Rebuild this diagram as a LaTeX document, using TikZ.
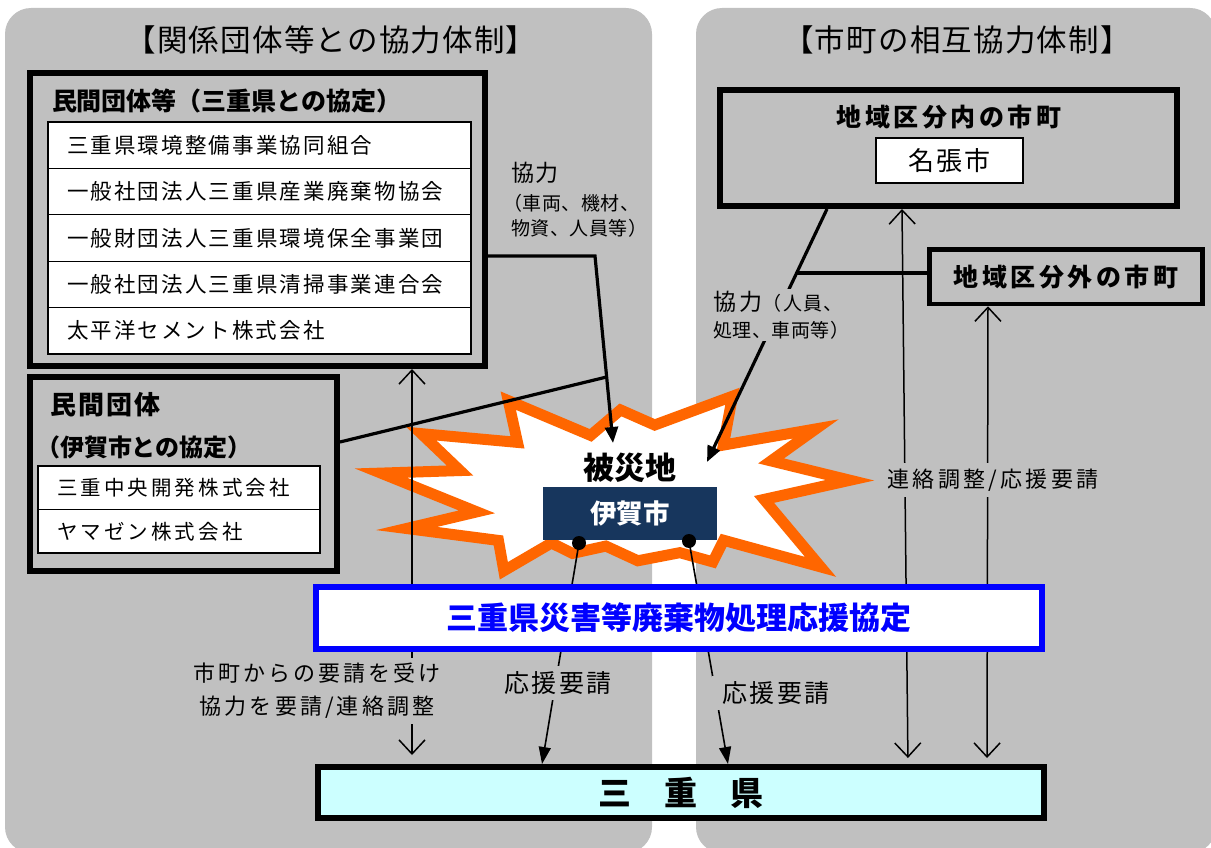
\documentclass[tikz,border=0pt]{standalone}
\usepackage{fontspec}
\setmainfont{Noto Sans CJK JP}
\usetikzlibrary{arrows.meta,calc}
\definecolor{panel}{HTML}{C0C0C0}
\definecolor{burstorange}{HTML}{FF6600}
\definecolor{navy}{HTML}{17365D}
\definecolor{pblue}{HTML}{0000FF}
\definecolor{pcyan}{HTML}{CCFFFF}
\newcommand{\fs}[2]{\fontsize{#1}{#2}\selectfont}
\newcommand{\ls}[1]{\addfontfeature{LetterSpace=#1}}
\begin{document}
\begin{tikzpicture}[x=1pt,y=-1pt,
  every node/.style={inner sep=0pt, outer sep=0pt},
  heavybox/.style={draw=black, line width=6pt, outer sep=3pt},
  listrow/.style={draw=black, line width=1.3pt, fill=white, align=left, inner xsep=19pt, inner ysep=0pt},
  boxtitle/.style={font=\bfseries\fs{25}{30}},
  itemA/.style={font=\fs{21.5}{26}\ls{10}},
  itemB/.style={font=\fs{20.5}{26}\ls{15}},
  paneltitle/.style={font=\fs{30.5}{34}\ls{4}},
  small/.style={font=\fs{19}{20}\ls{3}},
  thickc/.style={line width=3.2pt},
  thinc/.style={line width=1.6pt, -{Triangle[length=17pt,width=12pt]}},
  dbl/.style={line width=1.5pt, {Straight Barb[length=14pt,width=26pt]}-{Straight Barb[length=14pt,width=26pt]}},
  burst/.style={draw=burstorange, line width=11pt, fill=white, line join=miter},
  dot/.style={circle, fill=black, minimum size=14pt},
  cover/.style={fill=panel}
]
\useasboundingbox (0,0) rectangle (1211,848);
\fill[white] (0,0) rectangle (1211,848);
% panels
\fill[panel, rounded corners=26pt] (5,8) rectangle (652,853);
\fill[panel, rounded corners=26pt] (696,8) rectangle (1216,853);

% burst
\coordinate (bc) at (615,485);
\foreach \n/\px/\py/\s in {b1/359/472/22, b2/454/470/6, b3/400/428/22, b4/512/440/6,
  b5/491/387/22, b6/588/430/6, b7/622/390/20, b8/658/420/6, b9/750/383/22,
  b10/729/443/6, b11/837/423/22, b12/777/460/6, b13/862/480/12, b14/770/500/6,
  b15/841/575/22, b16/729/543/6, b17/727/573/18, b18/684/557/6, b19/643/578/18,
  b20/605/552/6, b21/564/567/16, b22/547/547/6, b23/488/583/20, b24/493/543/6,
  b25/385/533/22, b26/471/513/6}
  \coordinate (\n) at ($(\px,\py)!\s pt!(bc)$);
\draw[burst] (b1) -- (b2) -- (b3) -- (b4) -- (b5) -- (b6) -- (b7) -- (b8) -- (b9)
  -- (b10) -- (b11) -- (b12) -- (b13) -- (b14) -- (b15) -- (b16) -- (b17) -- (b18)
  -- (b19) -- (b20) -- (b21) -- (b22) -- (b23) -- (b24) -- (b25) -- (b26) -- cycle;

% titles
\node[paneltitle] (titleL) at (331,40) {【関係団体等との協力体制】};
\node[paneltitle] (titleR) at (957,40) {【市町の相互協力体制】};

% box A
\node[heavybox, minimum width=455pt, minimum height=293pt] (boxA) at (257.5,219.5) {};
\node[boxtitle, anchor=west] (titA) at (52,101) {民間団体等（三重県との協定）};
\node[listrow, itemA, text width=385pt, minimum height=46.4pt] (a1) at (259.5,145.2) {三重県環境整備事業協同組合};
\node[listrow, itemA, text width=385pt, minimum height=46.4pt] (a2) at (259.5,191.6) {一般社団法人三重県産業廃棄物協会};
\node[listrow, itemA, text width=385pt, minimum height=46.4pt] (a3) at (259.5,238.0) {一般財団法人三重県環境保全事業団};
\node[listrow, itemA, text width=385pt, minimum height=46.4pt] (a4) at (259.5,284.4) {一般社団法人三重県清掃事業連合会};
\node[listrow, itemA, text width=385pt, minimum height=46.4pt] (a5) at (259.5,330.8) {太平洋セメント株式会社};

% box B
\node[heavybox, minimum width=307pt, minimum height=194pt] (boxB) at (183.5,474) {};
\node[anchor=west, font=\bfseries\fs{26}{30}\ls{8}] (titB1) at (50,405) {民間団体};
\node[anchor=west, font=\bfseries\fs{24}{28}] (titB2) at (36,447) {（伊賀市との協定）};
\node[listrow, itemB, text width=244pt, minimum height=43.5pt] (bb1) at (179,487.75) {三重中央開発株式会社};
\node[listrow, itemB, text width=244pt, minimum height=43.5pt] (bb2) at (179,531.25) {ヤマゼン株式会社};

% box C and D
\node[heavybox, minimum width=457pt, minimum height=116pt] (boxC) at (948.5,148) {};
\node[font=\bfseries\fs{25}{30}\ls{14}] (titC) at (949,117) {地域区分内の市町};
\node[draw=black, line width=1.3pt, fill=white, minimum width=147pt, minimum height=45pt, font=\fs{26}{30}\ls{8}] (nabari) at (949.5,160.5) {名張市};
\node[draw=black, line width=4.5pt, outer sep=2.25pt, minimum width=273pt, minimum height=54.5pt, font=\bfseries\fs{25}{30}\ls{14}] (boxD) at (1066,276.75) {地域区分外の市町};

% disaster area
\node[font=\bfseries\fs{31}{36}] (hisai) at (630,468) {被災地};
\node[fill=navy, text=white, minimum width=174pt, minimum height=53pt, font=\bfseries\fs{26.5}{30}] (iga) at (630,513.5) {伊賀市};

% prefecture box
\node[heavybox, fill=pcyan, minimum width=726pt, minimum height=51pt, font=\bfseries\fs{33}{38}] (pref) at (681,792.5) {三　重　県};

% helper coordinates
\coordinate (x412) at (412,0);
\coordinate (x542) at (542,0);
\coordinate (x728) at (728,0);
\coordinate (x827) at (827,0);
\coordinate (x902) at (902,0);
\coordinate (x908) at (908,0);
\coordinate (x987) at (987,0);
\coordinate (x988) at (988,0);
\coordinate (yB) at (0,442);
\coordinate (jA) at (595,256);
\coordinate (tipA) at (613,443);
\coordinate (jB) at ($(jA)!0.647!(tipA)$);
\coordinate (cTop) at (boxC.south -| x827);
\coordinate (tipC) at (707,462);
\coordinate (jC) at ($(cTop)!0.253!(tipC)$);
\coordinate (d1) at (579,543);
\coordinate (d2) at (689,541);

% connectors
\draw[thickc, -{Triangle[length=16pt,width=13pt]}] (boxA.east |- jA) -- (jA) -- (tipA);
\draw[thickc] (boxB.east |- yB) -- (jB);
\draw[thickc, -{Triangle[length=16pt,width=13pt]}] (cTop) -- (tipC);
\draw[thickc] (jC) -- (boxD.west |- jC);
\draw[dbl, shorten >=9pt] (boxA.south -| x412) -- (pref.north -| x412);
\draw[dbl, shorten >=6pt] (boxC.south -| x902) -- (pref.north -| x908);
\draw[dbl, shorten >=6pt] (boxD.south -| x988) -- (pref.north -| x987);
\draw[thinc] (d1) -- (pref.north -| x542);
\draw[thinc] (d2) -- (pref.north -| x728);
\node[dot] (dot1) at (d1) {};
\node[dot] (dot2) at (d2) {};

% agreement box
\node[draw=pblue, line width=6pt, fill=white, minimum width=726pt, minimum height=62pt, text=pblue, font=\bfseries\fs{31}{36}] (kyotei) at (679,618) {三重県災害等廃棄物処理応援協定};

% labels
\node[anchor=west, font=\fs{23}{28}\ls{8}] (coopA1) at (511,173) {協力};
\node[anchor=west, small] (coopA2) at (503,203) {（車両、機材、};
\node[anchor=west, small] (coopA3) at (511,228) {物資、人員等）};
\node[cover, inner sep=2pt, anchor=north west, align=left, font=\fs{19}{27}] (coopC) at (711,289)
  {{\fs{23}{27}\ls{17}協力}{\ls{6}（人員、}\\{\ls{3}処理、車両等）}};
\node[cover, inner sep=5pt, align=center, font=\fs{22}{33}\ls{14}] (reqL) at (317,691) {市町からの要請を受け\\協力を要請/連絡調整};
\node[cover, inner sep=5pt, font=\fs{25}{30}\ls{10}] (ouen1) at (558,683) {応援要請};
\node[cover, inner xsep=10pt, inner ysep=5pt, font=\fs{25}{30}\ls{10}] (ouen2) at (776,693) {応援要請};
\node[cover, inner xsep=4pt, inner ysep=6pt, font=\fs{22}{26}\ls{15}] (renraku) at (993,480) {連絡調整/応援要請};
\end{tikzpicture}
\end{document}
